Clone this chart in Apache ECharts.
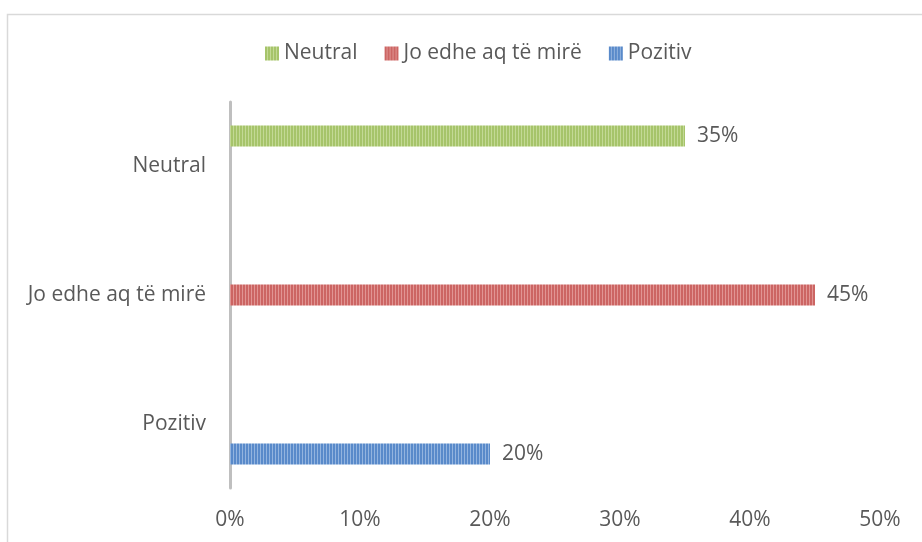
<!DOCTYPE html>
<html>
<head>
<meta charset="utf-8">
<script src="https://cdn.jsdelivr.net/npm/echarts@6/dist/echarts.min.js"></script>
<style>
html,body{margin:0;padding:0;background:#fff;}
#chart{width:922px;height:542px;}
</style>
</head>
<body>
<div id="chart"></div>
<script>
// Data
var categories = ['Pozitiv', 'Jo edhe aq të mirë', 'Neutral'];
var seriesNames = ['Neutral', 'Jo edhe aq të mirë', 'Pozitiv'];
var neutralValues = [null, null, 0.35];
var joEdheValues = [null, 0.45, null];
var pozitivValues = [0.20, null, null];
var xTicks = [0, 0.1, 0.2, 0.3, 0.4, 0.5];

function stripe(base, light) {
  var c = document.createElement('canvas');
  c.width = 3; c.height = 2;
  var ctx = c.getContext('2d');
  ctx.fillStyle = base; ctx.fillRect(0, 0, 3, 2);
  ctx.fillStyle = light; ctx.fillRect(2, 0, 1, 2);
  return { image: c, repeat: 'repeat' };
}
var fills = [
  stripe('#a6c46a', '#c3d995'),
  stripe('#cc6563', '#e19593'),
  stripe('#598aca', '#93b4df')
];
var font = "'Open Sans', sans-serif";
var txt = '#595959';

var chart = echarts.init(document.getElementById('chart'));
var dataSets = [neutralValues, joEdheValues, pozitivValues];
var series = seriesNames.map(function (n, i) {
  return {
    name: n,
    type: 'bar',
    data: dataSets[i],
    barWidth: 21,
    barGap: '45%',
    itemStyle: { color: fills[i] },
    label: {
      show: true, position: 'right', distance: 12,
      color: txt, fontFamily: font, fontSize: 21,
      formatter: function (p) { return Math.round(p.value * 100) + '%'; }
    }
  };
});

chart.setOption({
  animation: false,
  backgroundColor: '#fff',
  graphic: [{
    type: 'rect', left: 5, top: 12, silent: true,
    shape: { width: 1000, height: 1000 },
    style: { fill: 'none', stroke: '#d9d9d9', lineWidth: 1.5 }
  }],
  legend: {
    data: seriesNames,
    left: 260, top: 38,
    itemWidth: 14, itemHeight: 14, itemGap: 27,
    icon: 'rect',
    textStyle: { color: txt, fontFamily: font, fontSize: 21 }
  },
  grid: { left: 230, right: 42, top: 102, bottom: 54, containLabel: false },
  xAxis: {
    type: 'value', min: 0, max: 0.5, interval: 0.1,
    axisLine: { show: false }, axisTick: { show: false },
    splitLine: { show: false },
    axisLabel: {
      color: txt, fontFamily: font, fontSize: 21, margin: 22,
      formatter: function (v) { return Math.round(v * 100) + '%'; }
    }
  },
  yAxis: {
    type: 'category', data: categories,
    axisLine: { show: true, lineStyle: { color: '#bfbfbf', width: 3 } },
    axisTick: { show: false },
    axisLabel: { color: txt, fontFamily: font, fontSize: 21, margin: 24 }
  },
  series: series
});
</script>
</body>
</html>
